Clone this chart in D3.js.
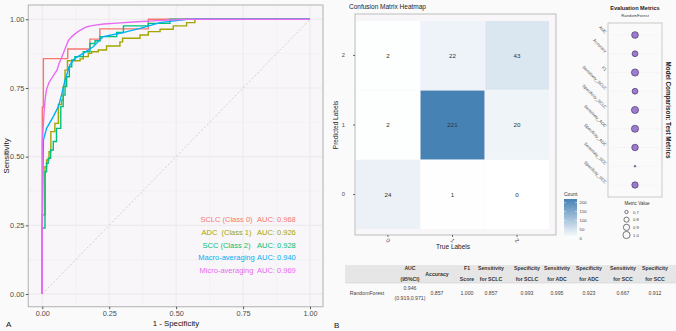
<!DOCTYPE html>
<html>
<head>
<meta charset="utf-8">
<script src="https://cdn.jsdelivr.net/npm/d3@7"></script>
<style>
  body { margin: 0; background: #fbfafb; }
  svg { font-family: "Liberation Sans", Arial, sans-serif; display: block; }
</style>
</head>
<body>
<div class="chart"></div>
<script>
// ---- data ----
var rocClasses = ["SCLC (Class 0)", "ADC  (Class 1)", "SCC (Class 2)", "Macro-averaging", "Micro-averaging"];
var rocAuc = [0.968, 0.926, 0.928, 0.940, 0.969];
var rocColors = ["#F8766D", "#A3A500", "#00BF7D", "#00B0F6", "#E76BF3"];
var axisTicks = [0, 0.25, 0.5, 0.75, 1];

// [fpr, tpr] corner points (step curves)
var rocSCLC = [[0,0],[0,0.68],[0.004,0.857],[0.095,0.892],[0.178,0.928],[0.215,0.965],[0.396,1.0],[1,1]];
var rocADC = [[0,0],[0,0.288],[0.010,0.463],[0.016,0.488],[0.025,0.518],[0.032,0.591],[0.047,0.621],[0.060,0.69],
  [0.072,0.706],[0.078,0.755],[0.085,0.815],[0.094,0.849],[0.141,0.856],[0.153,0.864],[0.172,0.876],[0.184,0.882],
  [0.209,0.888],[0.24,0.903],[0.29,0.918],[0.30,0.931],[0.365,0.943],[0.396,0.955],[0.44,0.964],[0.489,0.976],
  [0.539,0.988],[0.57,1.0],[1,1]];
var rocSCC = [[0,0],[0,0.24],[0.010,0.445],[0.016,0.476],[0.022,0.494],[0.031,0.524],[0.041,0.555],[0.053,0.603],
  [0.069,0.682],[0.078,0.724],[0.085,0.755],[0.091,0.791],[0.101,0.827],[0.11,0.852],[0.122,0.864],[0.153,0.882],
  [0.178,0.912],[0.197,0.922],[0.216,0.937],[0.278,0.952],[0.303,0.976],[0.396,0.985],[0.477,1.0],[1,1]];
var rocMacro = [[0,0.233],[0.004,0.56],[0.016,0.603],[0.041,0.646],[0.06,0.682],[0.072,0.725],[0.085,0.779],
  [0.103,0.834],[0.122,0.858],[0.153,0.876],[0.19,0.9],[0.228,0.937],[0.29,0.949],[0.365,0.967],[0.44,0.988],
  [0.54,1.0],[1,1]];
var rocMicro = [[0,0],[0,0.55],[0.004,0.62],[0.008,0.68],[0.012,0.72],[0.016,0.745],[0.025,0.77],[0.035,0.785],
  [0.045,0.80],[0.055,0.815],[0.063,0.84],[0.072,0.86],[0.08,0.88],[0.088,0.90],[0.097,0.922],[0.11,0.937],
  [0.122,0.947],[0.135,0.956],[0.147,0.963],[0.165,0.972],[0.185,0.977],[0.23,0.983],[0.28,0.986],[0.34,0.99],
  [0.43,0.995],[0.54,1],[1,1]];

// confusion matrix (rows = predicted 2,1,0 ; cols = true 0,1,2)
var cmLabels = ["0", "1", "2"];
var cmPred2 = [2, 22, 43];
var cmPred1 = [2, 221, 20];
var cmPred0 = [24, 1, 0];
var countTicks = [0, 50, 100, 150, 200];

// evaluation metrics
var metricNames = ["AUC", "Accuracy", "F1", "Sensitivity_SCLC", "Specificity_SCLC", "Sensitivity_ADC",
  "Specificity_ADC", "Sensitivity_SCC", "Specificity_SCC"];
var metricValues = [0.946, 0.857, 1.000, 0.857, 0.993, 0.995, 0.923, 0.667, 0.912];
var sizeTicks = [0.7, 0.8, 0.9, 1.0];

// table
var tableHeaders = [["AUC", "(95%CI)"], ["Accuracy"], ["F1", "Score"], ["Sensitivity", "for SCLC"],
  ["Specificity", "for SCLC"], ["Sensitivity", "for ADC"], ["Specificity", "for ADC"],
  ["Sensitivity", "for SCC"], ["Specificity", "for SCC"]];
var tableModel = "RandomForest";
var tableRow = [["0.946", "(0.919,0.971)"], ["0.857"], ["1.000"], ["0.857"], ["0.993"], ["0.995"], ["0.923"], ["0.667"], ["0.912"]];

// ---- setup ----
var W = 676, H = 331;
var svg = d3.select(".chart").append("svg").attr("width", W).attr("height", H);
svg.append("rect").attr("width", W).attr("height", H).attr("fill", "#fbfafb");

// ================= Panel A : ROC =================
var xScale = d3.scaleLinear().domain([0, 1]).range([42.3, 310]);
var yScale = d3.scaleLinear().domain([0, 1]).range([294, 19.3]);
var pA = {l: 28.3, r: 323, t: 5, b: 306.7};

svg.append("rect")
    .attr("x", pA.l).attr("y", pA.t)
    .attr("width", pA.r - pA.l).attr("height", pA.b - pA.t)
    .attr("fill", "#f8f6f8");

// grid
var minor = [0.125, 0.375, 0.625, 0.875];
var gridA = svg.append("g");
minor.forEach(function(v) {
  gridA.append("line").attr("x1", xScale(v)).attr("x2", xScale(v)).attr("y1", pA.t).attr("y2", pA.b)
      .attr("stroke", "#efedef").attr("stroke-width", 0.5);
  gridA.append("line").attr("y1", yScale(v)).attr("y2", yScale(v)).attr("x1", pA.l).attr("x2", pA.r)
      .attr("stroke", "#efedef").attr("stroke-width", 0.5);
});
axisTicks.forEach(function(v) {
  gridA.append("line").attr("x1", xScale(v)).attr("x2", xScale(v)).attr("y1", pA.t).attr("y2", pA.b)
      .attr("stroke", "#e8e6e8").attr("stroke-width", 0.8);
  gridA.append("line").attr("y1", yScale(v)).attr("y2", yScale(v)).attr("x1", pA.l).attr("x2", pA.r)
      .attr("stroke", "#e8e6e8").attr("stroke-width", 0.8);
});

// diagonal reference
svg.append("line")
    .attr("x1", xScale(0)).attr("y1", yScale(0)).attr("x2", xScale(1)).attr("y2", yScale(1))
    .attr("stroke", "#b5b5b5").attr("stroke-width", 0.6).attr("stroke-dasharray", "2,2");

// curves
var stepLine = d3.line()
    .x(function(d) { return xScale(d[0]); })
    .y(function(d) { return yScale(d[1]); })
    .curve(d3.curveStepAfter);
var smoothLine = d3.line()
    .x(function(d) { return xScale(d[0]); })
    .y(function(d) { return yScale(d[1]); });

var curves = [
  {data: rocSCLC, gen: stepLine, col: rocColors[0]},
  {data: rocADC, gen: stepLine, col: rocColors[1]},
  {data: rocSCC, gen: stepLine, col: rocColors[2]},
  {data: rocMacro, gen: smoothLine, col: rocColors[3]},
  {data: rocMicro, gen: smoothLine, col: rocColors[4]}
];
curves.forEach(function(c) {
  svg.append("path")
      .datum(c.data)
      .attr("d", c.gen)
      .attr("fill", "none")
      .attr("stroke", c.col)
      .attr("stroke-width", 1.4);
});

svg.append("rect")
    .attr("x", pA.l).attr("y", pA.t)
    .attr("width", pA.r - pA.l).attr("height", pA.b - pA.t)
    .attr("fill", "none").attr("stroke", "#bdbdbd").attr("stroke-width", 1.2);

// axes
var fmt = d3.format(".2f");
var xAxisA = svg.append("g")
    .attr("transform", "translate(0," + pA.b + ")")
    .call(d3.axisBottom(xScale).tickValues(axisTicks).tickFormat(fmt).tickSize(2.5).tickPadding(1.5));
var yAxisA = svg.append("g")
    .attr("transform", "translate(" + pA.l + ",0)")
    .call(d3.axisLeft(yScale).tickValues(axisTicks).tickFormat(fmt).tickSize(2.5).tickPadding(1.5));
[xAxisA, yAxisA].forEach(function(a) {
  a.select(".domain").remove();
  a.selectAll(".tick line").attr("stroke", "#555");
  a.selectAll(".tick text").attr("fill", "#4d4d4d").attr("font-size", 7.3);
});

svg.append("text").attr("x", 176).attr("y", 326).attr("text-anchor", "middle")
    .attr("font-size", 7.8).attr("fill", "#111").text("1 - Specificity");
svg.append("text").attr("transform", "translate(9,156) rotate(-90)").attr("text-anchor", "middle")
    .attr("font-size", 7.8).attr("fill", "#111").text("Sensitivity");
svg.append("text").attr("x", 6).attr("y", 327).attr("font-size", 8).attr("fill", "#111").text("A");

// legend (inside)
rocClasses.forEach(function(name, i) {
  var yy = 222 + i * 12.8;
  svg.append("text").attr("x", 226.5).attr("y", yy).attr("text-anchor", "middle")
      .attr("font-size", 7.5).attr("fill", rocColors[i]).attr("xml:space", "preserve").text(name);
  svg.append("text").attr("x", 257).attr("y", yy)
      .attr("font-size", 7.5).attr("fill", rocColors[i]).text("AUC: " + rocAuc[i].toFixed(3));
});

// ================= Panel B : confusion matrix =================
var cmX = d3.scaleBand().domain(cmLabels).range([356, 549]).paddingInner(0.01);
var cmY = d3.scaleBand().domain(["2", "1", "0"]).range([21, 229]).paddingInner(0.01);
var cmColor = d3.scaleLinear().domain([0, 221]).range(["#ffffff", "#4682B4"]);
var pB = {l: 355, r: 556, t: 14, b: 235};

svg.append("text").attr("x", 349).attr("y", 9).attr("font-size", 6.5).attr("fill", "#222")
    .text("Confusion Matrix Heatmap");

svg.append("rect").attr("x", pB.l).attr("y", pB.t).attr("width", pB.r - pB.l).attr("height", pB.b - pB.t)
    .attr("fill", "#f8f6f8");

var cells = [];
[["2", cmPred2], ["1", cmPred1], ["0", cmPred0]].forEach(function(row) {
  row[1].forEach(function(v, j) { cells.push({pred: row[0], tru: cmLabels[j], n: v}); });
});

svg.selectAll(".cell").data(cells).enter().append("rect")
    .attr("class", "cell")
    .attr("x", function(d) { return cmX(d.tru); })
    .attr("y", function(d) { return cmY(d.pred); })
    .attr("width", cmX.bandwidth())
    .attr("height", cmY.bandwidth())
    .attr("fill", function(d) { return cmColor(d.n); });

svg.selectAll(".cellText").data(cells).enter().append("text")
    .attr("x", function(d) { return cmX(d.tru) + cmX.bandwidth() / 2; })
    .attr("y", function(d) { return cmY(d.pred) + cmY.bandwidth() / 2 + 2.2; })
    .attr("text-anchor", "middle").attr("font-size", 6.2).attr("fill", "#333")
    .text(function(d) { return d.n; });

svg.append("rect").attr("x", pB.l).attr("y", pB.t).attr("width", pB.r - pB.l).attr("height", pB.b - pB.t)
    .attr("fill", "none").attr("stroke", "#bdbdbd").attr("stroke-width", 1);

// axes
var yAxisB = svg.append("g").attr("transform", "translate(" + pB.l + ",0)")
    .call(d3.axisLeft(cmY).tickSize(2).tickPadding(8));
var xAxisB = svg.append("g").attr("transform", "translate(0," + pB.b + ")")
    .call(d3.axisBottom(cmX).tickSize(2).tickPadding(2));
[xAxisB, yAxisB].forEach(function(a) {
  a.select(".domain").remove();
  a.selectAll(".tick line").attr("stroke", "#666");
  a.selectAll(".tick text").attr("fill", "#4d4d4d").attr("font-size", 5.8);
});
xAxisB.selectAll(".tick text")
    .attr("text-anchor", "middle").attr("dy", null).attr("y", 7.5)
    .attr("transform", "rotate(45 0 5.5)");

svg.append("text").attr("x", 453).attr("y", 249).attr("text-anchor", "middle")
    .attr("font-size", 6.5).attr("fill", "#222").text("True Labels");
svg.append("text").attr("transform", "translate(337.5,125) rotate(-90)").attr("text-anchor", "middle")
    .attr("font-size", 6.5).attr("fill", "#222").text("Predicted Labels");

// colour bar
var barY = d3.scaleLinear().domain([0, 221]).range([238, 199]);
var grad = svg.append("defs").append("linearGradient").attr("id", "cbar")
    .attr("x1", 0).attr("y1", 1).attr("x2", 0).attr("y2", 0);
grad.append("stop").attr("offset", 0).attr("stop-color", cmColor(0));
grad.append("stop").attr("offset", 1).attr("stop-color", cmColor(221));
svg.append("rect").attr("x", 564).attr("y", barY(221)).attr("width", 13)
    .attr("height", barY(0) - barY(221)).attr("fill", "url(#cbar)");
svg.append("text").attr("x", 564).attr("y", 196).attr("font-size", 5).attr("fill", "#333").text("Count");
countTicks.forEach(function(t) {
  svg.append("line").attr("x1", 564).attr("x2", 566).attr("y1", barY(t)).attr("y2", barY(t))
      .attr("stroke", "#fff").attr("stroke-width", 0.5);
  svg.append("line").attr("x1", 575).attr("x2", 577).attr("y1", barY(t)).attr("y2", barY(t))
      .attr("stroke", "#fff").attr("stroke-width", 0.5);
  svg.append("text").attr("x", 579.5).attr("y", barY(t) + 1.6).attr("font-size", 4.3).attr("fill", "#444").text(t);
});

// ================= metrics dot panel =================
var pC = {l: 608, r: 662, t: 23, b: 197};
var mY = d3.scalePoint().domain(metricNames).range([35, 185]);
var mR = d3.scaleLinear().domain([0, 1]).range([0.8, 3.6]);
function radius(v) { return mR(Math.sqrt((v - 0.667) / (1 - 0.667))); }

svg.append("text").attr("x", 635).attr("y", 10).attr("text-anchor", "middle")
    .attr("font-size", 5.6).attr("font-weight", "bold").attr("fill", "#222").text("Evaluation Metrics");
svg.append("text").attr("x", 635).attr("y", 17).attr("text-anchor", "middle")
    .attr("font-size", 4.2).attr("fill", "#444").text("RandomForest");

svg.append("rect").attr("x", pC.l).attr("y", pC.t).attr("width", pC.r - pC.l).attr("height", pC.b - pC.t)
    .attr("fill", "#fbfafb").attr("stroke", "#bdbdbd").attr("stroke-width", 0.8);

metricNames.forEach(function(m) {
  svg.append("line").attr("x1", pC.l).attr("x2", pC.r).attr("y1", mY(m)).attr("y2", mY(m))
      .attr("stroke", "#f0eef0").attr("stroke-width", 0.5);
});

svg.selectAll(".mdot").data(metricNames).enter().append("circle")
    .attr("class", "mdot")
    .attr("cx", 635)
    .attr("cy", function(d) { return mY(d); })
    .attr("r", function(d, i) { return radius(metricValues[i]); })
    .attr("fill", "#9d7bd0").attr("stroke", "#3a2a55").attr("stroke-width", 0.6);

svg.selectAll(".mlab").data(metricNames).enter().append("text")
    .attr("class", "mlab")
    .attr("transform", function(d) { return "translate(605," + (mY(d) - 1) + ") rotate(45)"; })
    .attr("text-anchor", "end").attr("font-size", 4.2).attr("fill", "#444")
    .text(function(d) { return d; });

svg.append("text").attr("transform", "translate(666,110) rotate(90)").attr("text-anchor", "middle")
    .attr("font-size", 6.3).attr("font-weight", "bold").attr("fill", "#222").text("Model Comparison: Test Metrics");

// size legend
svg.append("text").attr("x", 637).attr("y", 205).attr("text-anchor", "middle")
    .attr("font-size", 4.6).attr("fill", "#333").text("Metric Value");
var legY = d3.scalePoint().domain(sizeTicks).range([212, 235]);
sizeTicks.forEach(function(t) {
  svg.append("circle").attr("cx", 626.5).attr("cy", legY(t)).attr("r", radius(t))
      .attr("fill", "none").attr("stroke", "#222").attr("stroke-width", 0.6);
  svg.append("text").attr("x", 633).attr("y", legY(t) + 1.5).attr("font-size", 4.2).attr("fill", "#444")
      .text(t.toFixed(1));
});

// ================= table =================
var colX = [410, 437, 467, 491, 527, 557, 589, 623, 655];
svg.append("rect").attr("x", 345).attr("y", 265).attr("width", W - 345).attr("height", 18).attr("fill", "#e6e6e6");
svg.append("line").attr("x1", 345).attr("x2", W).attr("y1", 283).attr("y2", 283).attr("stroke", "#c8c8c8").attr("stroke-width", 0.5);

tableHeaders.forEach(function(h, i) {
  h.forEach(function(line, k) {
    var yy = h.length === 1 ? 275.5 : 270 + k * 10.5;
    svg.append("text").attr("x", colX[i]).attr("y", yy).attr("text-anchor", "middle")
        .attr("font-size", 5.2).attr("font-weight", "bold").attr("fill", "#333").text(line);
  });
});
svg.append("text").attr("x", 367).attr("y", 295).attr("text-anchor", "middle")
    .attr("font-size", 5.2).attr("fill", "#444").text(tableModel);
tableRow.forEach(function(c, i) {
  c.forEach(function(line, k) {
    var yy = c.length === 1 ? 295 : 290 + k * 10;
    svg.append("text").attr("x", colX[i]).attr("y", yy).attr("text-anchor", "middle")
        .attr("font-size", 5.2).attr("fill", "#444").text(line);
  });
});

svg.append("text").attr("x", 334).attr("y", 328).attr("font-size", 8).attr("fill", "#111").text("B");
</script>
</body>
</html>
